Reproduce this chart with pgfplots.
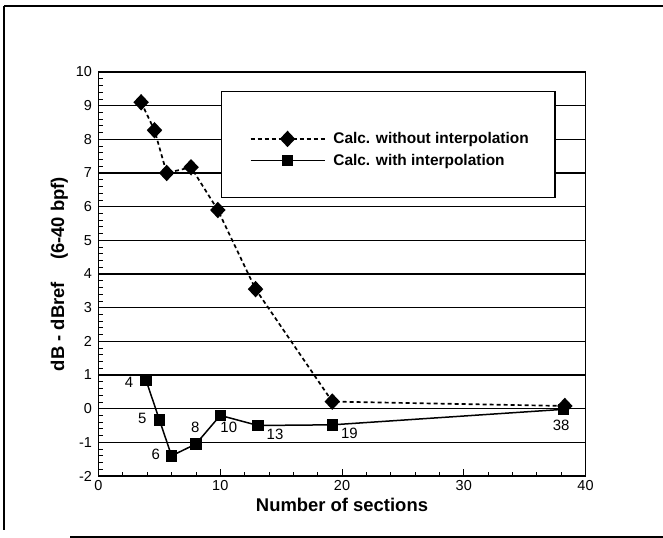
\documentclass[border=0pt]{standalone}
\usepackage{pgfplots}
\pgfplotsset{compat=1.18}
\usepackage{fontspec}
\setmainfont{Liberation Sans}
\begin{document}
\begin{tikzpicture}[x=1bp,y=1bp]
\path[use as bounding box] (0,0) rectangle (663,538);
\draw[line width=1.2bp] (4,532) -- (663,532);
\draw[line width=1.2bp] (4,532) -- (4,8);
\draw[line width=1.2bp] (70,1) -- (663,1);
\begin{axis}[
  at={(98.5bp,62bp)}, anchor=south west,
  scale only axis, width=487bp, height=404bp,
  xmin=0, xmax=40, ymin=-2, ymax=10,
  xtick={0,10,20,30,40}, ytick={-2,-1,...,10},
  minor x tick num=4, minor y tick num=4,
  tick align=inside,
  xtick pos=bottom, ytick pos=left,
  major tick length=7bp, minor tick length=4bp,
  every tick/.style={black, line width=0.8bp},
  axis line style={line width=1.6bp},
  ymajorgrids, major grid style={black, line width=1.5bp},
  /pgf/number format/assume math mode=true,
  tick label style={font=\fontsize{14.5}{15}\selectfont},
  xticklabel style={yshift=-1bp},
  yticklabel style={xshift=-3bp},
  xlabel={Number of sections},
  ylabel={dB - dBref\hspace{1.2em}(6-40 bpf)},
  label style={font=\bfseries\fontsize{18.5}{20}\selectfont},
  xlabel style={yshift=-1bp},
  ylabel style={yshift=1bp},
  legend style={at={(0.31,0.8075)}, anchor=west, draw=none, fill=none,
    inner sep=0pt, row sep=5bp,
    font=\bfseries\fontsize{15.5}{16.5}\selectfont},
  legend cell align=left,
  legend image code/.code={\draw[mark repeat=2,mark phase=2,#1] plot coordinates {(0bp,0bp) (37bp,0bp) (74bp,0bp)}; \path (80bp,0bp);},
]
\filldraw[fill=white, draw=black, line width=1.3bp] (axis cs:10.1,9.42) rectangle (axis cs:37.5,6.28);
\addplot[black, line width=1.7bp, dash pattern=on 4bp off 3bp, mark=diamond*, mark size=7bp, mark options={solid, xscale=1.25}]
coordinates {(3.5,9.1) (4.6,8.27) (5.6,7.0) (7.6,7.17) (9.8,5.9) (12.9,3.55) (19.2,0.21) (38.3,0.08)};
\addlegendentry{Calc. without interpolation}
\addplot[black, line width=1.5bp, mark=square*, mark size=5bp]
coordinates {(3.9,0.85) (5.0,-0.33) (6.0,-1.4) (8.0,-1.05) (10.0,-0.2) (13.1,-0.5) (19.2,-0.48) (38.2,-0.02)};
\addlegendentry{Calc. with interpolation}
\begin{scope}[every node/.style={font=\fontsize{15}{16}\selectfont}]
\node at (axis cs:2.5,0.77) {4};
\node at (axis cs:3.6,-0.3) {5};
\node at (axis cs:4.7,-1.35) {6};
\node at (axis cs:7.95,-0.57) {8};
\node at (axis cs:10.7,-0.55) {10};
\node at (axis cs:14.5,-0.76) {13};
\node at (axis cs:20.6,-0.72) {19};
\node at (axis cs:38.0,-0.5) {38};
\end{scope}
\end{axis}
\end{tikzpicture}
\end{document}
